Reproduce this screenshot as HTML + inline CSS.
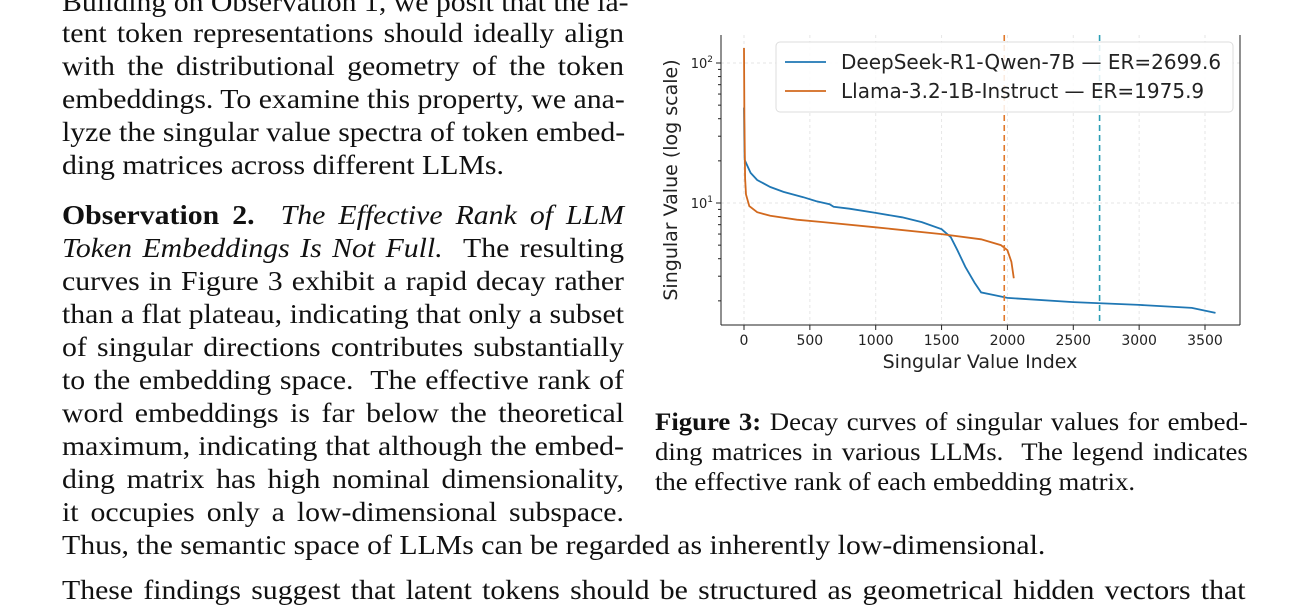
<!DOCTYPE html>
<html><head><meta charset="utf-8">
<style>
body{margin:0;width:1309px;height:591px;overflow:hidden;background:#fff;position:relative;font-family:"Liberation Serif",serif;color:#111}
.l{position:absolute;left:62px;width:509.5px;font-size:27px;line-height:33px;white-space:nowrap;text-align:justify;text-align-last:justify;transform:scaleX(1.103);transform-origin:0 0}
.w{position:absolute;left:62px;font-size:27px;line-height:33px;white-space:nowrap;transform:scaleX(1.103);transform-origin:0 0}
.c{position:absolute;left:655px;width:554px;font-size:25px;line-height:30px;white-space:nowrap;text-align:justify;text-align-last:justify;transform:scaleX(1.07);transform-origin:0 0}
svg text{font-family:"DejaVu Sans","Liberation Sans",sans-serif;fill:#222}
</style></head><body>
<div>
<div class="l" style="top:-14px">Building on Observation 1, we posit that the la-</div>
<div class="l" style="top:17px">tent token representations should ideally align</div>
<div class="l" style="top:50px">with the distributional geometry of the token</div>
<div class="l" style="top:83px">embeddings. To examine this property, we ana-</div>
<div class="l" style="top:116px">lyze the singular value spectra of token embed-</div>
<div class="w" style="top:149px">ding matrices across different LLMs.</div>
<div class="l" style="top:199px"><b>Observation 2.</b>&nbsp; <i>The Effective Rank of LLM</i></div>
<div class="l" style="top:232px"><i>Token Embeddings Is Not Full.</i>&nbsp; The resulting</div>
<div class="l" style="top:265px">curves in Figure 3 exhibit a rapid decay rather</div>
<div class="l" style="top:298px">than a flat plateau, indicating that only a subset</div>
<div class="l" style="top:331px">of singular directions contributes substantially</div>
<div class="l" style="top:364px">to the embedding space.&nbsp; The effective rank of</div>
<div class="l" style="top:397px">word embeddings is far below the theoretical</div>
<div class="l" style="top:430px">maximum, indicating that although the embed-</div>
<div class="l" style="top:463px">ding matrix has high nominal dimensionality,</div>
<div class="l" style="top:496px">it occupies only a low-dimensional subspace.</div>
<div class="w" style="top:529px">Thus, the semantic space of LLMs can be regarded as inherently low-dimensional.</div>
<div class="w" style="top:574px;width:1073px;text-align:justify;text-align-last:justify">These findings suggest that latent tokens should be structured as geometrical hidden vectors that</div>
</div>
<div>
<div class="c" style="top:408px"><b>Figure 3:</b> Decay curves of singular values for embed-</div>
<div class="c" style="top:438px">ding matrices in various LLMs.&nbsp; The legend indicates</div>
<div class="w" style="top:468px;left:655px;font-size:25px;line-height:30px;transform:scaleX(1.07)">the effective rank of each embedding matrix.</div>
</div>
<svg id="chart" width="1309" height="591" style="position:absolute;left:0;top:0"></svg>
<script>
const blueIdx=[0,2,5,50,100,200,300,450,550,650,680,800,1000,1200,1350,1500,1570,1620,1680,1750,1800,1900,2000,2500,3000,3400,3580];
const blueVal=[48,30,20.3,16.4,14.6,13.0,12.0,11.0,10.3,9.8,9.4,9.1,8.5,7.9,7.3,6.5,5.7,4.6,3.5,2.7,2.3,2.2,2.1,1.96,1.87,1.78,1.64];
const orIdx=[0,3,8,15,40,100,200,400,600,1000,1500,1800,1950,2000,2030,2048];
const orVal=[128,40,15,11.5,9.5,8.6,8.1,7.6,7.3,6.7,6.0,5.5,5.0,4.6,3.8,2.9];
const erVals=[2699.6,1975.9];
const xTicks=[0,500,1000,1500,2000,2500,3000,3500];
const yTicks=[10,100];
const NS='http://www.w3.org/2000/svg';
const svg=document.getElementById('chart');
const X=v=>744+v*(1205-744)/3500;
const Y=v=>203-(Math.log10(v)-1)*140;
function mk(t,a,p){const e=document.createElementNS(NS,t);for(const k in a)e.setAttribute(k,a[k]);(p||svg).appendChild(e);return e;}
const L=721,R=1240,T=35,B=325;
xTicks.forEach(v=>{const g=mk('line',{x1:X(v),x2:X(v),y1:T,y2:B,stroke:'#e6e6e6','stroke-dasharray':'3,3'});


mk('line',{x1:X(v),x2:X(v),y1:B,y2:B+5,stroke:'#222'});
const t=mk('text',{x:X(v),y:B+20,'text-anchor':'middle','font-size':14});t.textContent=v;

});
yTicks.forEach(v=>{mk('line',{x1:L,x2:R,y1:Y(v),y2:Y(v),stroke:'#e6e6e6','stroke-dasharray':'3,3'});
mk('line',{x1:L-5,x2:L,y1:Y(v),y2:Y(v),stroke:'#222'});
const t=mk('text',{x:L-8,y:Y(v)+5,'text-anchor':'end','font-size':13});t.innerHTML='10<tspan dy="-6" font-size="9">'+Math.round(Math.log10(v))+'</tspan>';

});
for(let d=1;d<=2;d++)for(let m=2;m<10;m++){const v=m*Math.pow(10,d-1);if(Y(v)>T&&Y(v)<B)mk('line',{x1:L-3,x2:L,y1:Y(v),y2:Y(v),stroke:'#222'});}
mk('line',{x1:L,x2:L,y1:T,y2:B,stroke:'#222'});
mk('line',{x1:L,x2:R,y1:B,y2:B,stroke:'#222'});
mk('line',{x1:R,x2:R,y1:T,y2:B,stroke:'#222'});
function path(xs,ys,c,n){const d=xs.map((x,i)=>(i?'L':'M')+X(x).toFixed(1)+','+Y(ys[i]).toFixed(1)).join('');
const p=mk('path',{d:d,fill:'none',stroke:c,'stroke-width':1.8});

}
path(blueIdx,blueVal,'#1f77b4','deepseek-line');
path(orIdx,orVal,'#d2691e','llama-line');
const erC=['#2a9db5','#e0782a'];
erVals.forEach((v,i)=>{const l=mk('line',{x1:X(v),x2:X(v),y1:T,y2:B,stroke:erC[i],'stroke-width':1.6,'stroke-dasharray':'6,4'});

});
const lg=mk('g',{});


mk('rect',{x:776,y:42,width:457,height:70,rx:4,fill:'rgba(255,255,255,0.85)',stroke:'#ddd'},lg);
mk('line',{x1:785,x2:826,y1:62,y2:62,stroke:'#1f77b4','stroke-width':1.8},lg);
mk('line',{x1:785,x2:826,y1:91,y2:91,stroke:'#d2691e','stroke-width':1.8},lg);
let t1=mk('text',{x:841,y:69,'font-size':20},lg);t1.textContent='DeepSeek-R1-Qwen-7B — ER=2699.6';
let t2=mk('text',{x:841,y:98,'font-size':20},lg);t2.textContent='Llama-3.2-1B-Instruct — ER=1975.9';
let xl=mk('text',{x:980,y:368,'text-anchor':'middle','font-size':19});xl.textContent='Singular Value Index';


let yl=mk('text',{x:0,y:0,'text-anchor':'middle','font-size':19,transform:'translate(677,180) rotate(-90)'});yl.textContent='Singular Value (log scale)';


</script>
</body></html>
